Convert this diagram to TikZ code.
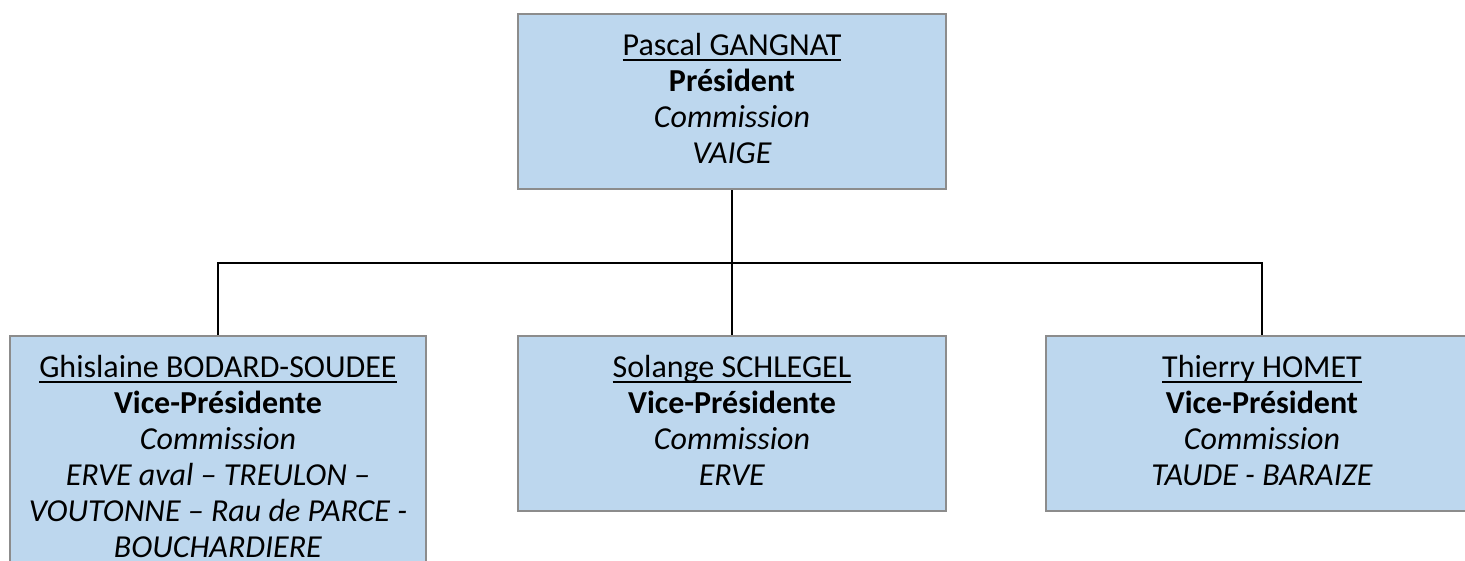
\documentclass[tikz,border=0pt]{standalone}
\usepackage{fontspec}
\setmainfont{Carlito}
\usepackage{xcolor}
\usetikzlibrary{positioning, calc}
\definecolor{boxblue}{RGB}{189,215,238}
\definecolor{boxgray}{RGB}{140,140,140}
\newcommand{\uname}[1]{\setbox0\hbox{#1}\leavevmode\rlap{\rule[-5.5pt]{\wd0}{2.2pt}}\box0}
\newcommand{\lstrut}{\rule[-10pt]{0pt}{36pt}}

\begin{document}
\begin{tikzpicture}[x=1pt, y=-1pt,
        box/.style={draw=boxgray, line width=2pt, fill=boxblue, anchor=north,
            inner sep=0pt, text width=#1, minimum width=#1, align=flush center,
            font=\fontsize{32}{36}\selectfont},
        link/.style={line width=2pt}]
            \clip (0,0) rectangle (1465,560);% page

            \node[box=428pt, minimum height=175pt] (pres) at (732,13)
                {\lstrut\uname{Pascal GANGNAT}\\ \lstrut\textbf{Président}\\ \lstrut\textit{Commission}\\ \lstrut\textit{VAIGE}};

            \node[box=416pt, minimum height=247pt] (vp1) at (218,335)
                {\lstrut\uname{Ghislaine BODARD-SOUDEE}\\ \lstrut\textbf{Vice-Présidente}\\ \lstrut\textit{Commission}\\
                 \lstrut\textit{ERVE aval – TREULON –}\\ \lstrut\textit{VOUTONNE – Rau de PARCE -}\\ \lstrut\textit{BOUCHARDIERE}};
            \node[box=428pt, minimum height=175pt] (vp2) at (732,335)
                {\lstrut\uname{Solange SCHLEGEL}\\ \lstrut\textbf{Vice-Présidente}\\ \lstrut\textit{Commission}\\ \lstrut\textit{ERVE}};
            \node[box=432pt, minimum height=175pt] (vp3) at (1262,335)
                {\lstrut\uname{Thierry HOMET}\\ \lstrut\textbf{Vice-Président}\\ \lstrut\textit{Commission}\\ \lstrut\textit{TAUDE - BARAIZE}};

            \coordinate (bus) at (732,263);% branch line

            \draw[link] (pres.south) -- (vp2.north);
            \draw[link] (vp1.north) |- (bus) -| (vp3.north);
        \end{tikzpicture}
\end{document}
